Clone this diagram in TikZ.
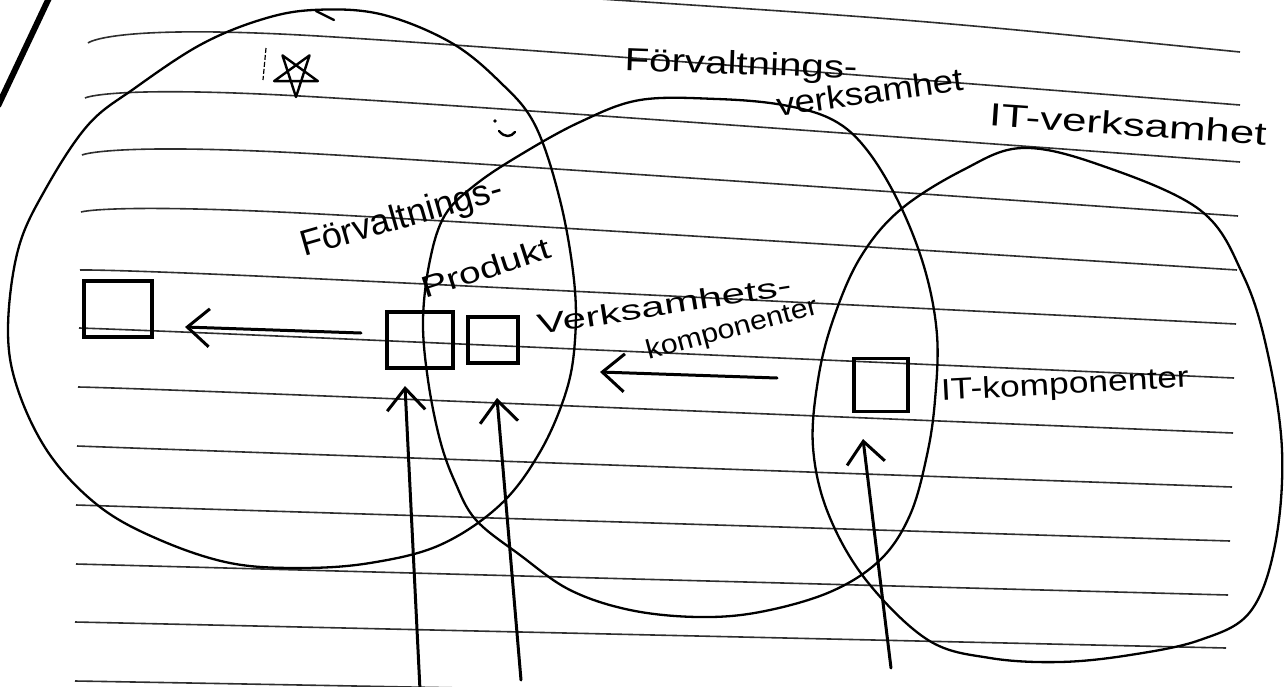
\documentclass[tikz,border=0pt]{standalone}
\usepackage{fontspec}
\setmainfont{Liberation Sans}
\usetikzlibrary{arrows.meta}
\begin{document}
\begin{tikzpicture}[x=1pt,y=-1pt,
  ruled/.style={draw=black!82, line width=1.6pt},
  blob/.style={draw=black, line width=2.3pt, line join=round, line cap=round},
  boxst/.style={draw=black, line width=3.2pt, inner sep=0pt},
  arr/.style={draw=black, line width=3pt, line cap=round, line join=round, -{Straight Barb[length=22pt,width=38pt]}},
  hand/.style={inner sep=0pt, text=black},
  penstroke/.style={draw=black, line width=2.4pt, line cap=round, line join=round}
]
\useasboundingbox (0,0) rectangle (1288,686);
\fill[white] (0,0) rectangle (1288,686);
\clip (0,0) rectangle (1288,686);

% ruled lines of the paper
\foreach \xl/\yl/\ym/\xr/\yr in {88/43/35/1240/105, 85/98/96/1240/162, 82/155/153/1238/216,
  81/212/213/1237/270, 80/270/278/1236/324, 79/328/337/1234/378, 78/387/395/1233/433,
  77/446/454/1232/487, 76/505/512/1230/541, 76/564/570/1228/595, 75/622/627/1226/648,
  75/681/685/1225/702}
  \draw[ruled] plot[smooth, tension=0.6] coordinates {(\xl,\yl) (300,\ym) (\xr,\yr)};
\draw[ruled] (600,-1) .. controls (920,20) .. (1240,52);

% thick margin stroke
\draw[line width=6pt] (49,-2) -- (-2,106);

% left blob
\draw[blob] plot[smooth cycle, tension=0.6] coordinates {
 (313,10) (380,14) (450,42) (500,82) (535,125) (560,200) (574,280) (575,340) (566,392)
 (540,452) (500,505) (440,545) (370,563) (300,568) (230,563) (160,540) (100,507)
 (50,455) (18,390) (8,330) (18,250) (45,190) (88,125) (135,88) (200,45) (260,20)};
\draw[blob] (316,11) -- (334,20);

% middle blob
\draw[blob] plot[smooth cycle, tension=0.6] coordinates {
 (580,122) (640,100) (717,99) (783,105) (833,120) (867,150) (900,205) (925,270)
 (937,335) (935,400) (927,455) (910,515) (880,560) (830,592) (760,612) (698,617)
 (630,610) (570,590) (520,555) (476,520) (455,482) (440,440) (428,380) (423,320)
 (430,260) (445,215) (475,185) (520,155)};

% right blob
\draw[blob] plot[smooth cycle, tension=0.6] coordinates {
 (1022,148) (1100,165) (1200,210) (1243,275) (1267,350) (1282,450) (1275,545)
 (1250,612) (1200,640) (1130,655) (1060,662) (990,658) (928,640) (866,580)
 (828,513) (813,447) (818,380) (833,320) (860,258) (900,210) (963,170)};

% star and small marks
\draw[penstroke, shift={(296,74)}] (90:23) -- (234:23) -- (18:23) -- (162:23) -- (306:23) -- cycle;
\draw[line width=1.2pt, dash pattern=on 5pt off 2pt] (266,48) -- (263,80);
\draw[penstroke] (499,131) .. controls (505,138) and (511,137) .. (515,132);
\fill (495,121) circle (1.8);

% boxes
\node[boxst, minimum width=68pt, minimum height=56pt] (B1) at (118,309) {};
\node[boxst, minimum width=66pt, minimum height=56pt] (B2) at (420,340) {};
\node[boxst, minimum width=50pt, minimum height=46pt] (B3) at (493,340) {};
\node[boxst, minimum width=54pt, minimum height=53pt] (B4) at (881,385) {};

% labels
\node[hand, font=\fontsize{32}{34}\selectfont, rotate=-2, xscale=1.26] (tFV) at (741,66) {Förvaltnings-};
\node[hand, font=\fontsize{32}{34}\selectfont, rotate=8, xscale=1.14] (tVH) at (870,92) {verksamhet};
\node[hand, font=\fontsize{32}{34}\selectfont, rotate=-4, xscale=1.37] (tIT) at (1128,124) {IT-verksamhet};
\node[hand, font=\fontsize{36}{38}\selectfont, rotate=16] (tFP) at (402,219) {Förvaltnings-};
\node[hand, font=\fontsize{30}{32}\selectfont, rotate=18, xscale=1.3] (tPR) at (486,268) {Produkt};
\node[hand, font=\fontsize{28}{30}\selectfont, rotate=9, xscale=1.5] (tVK) at (664,305) {Verksamhets-};
\node[hand, font=\fontsize{27}{29}\selectfont, rotate=15, xscale=1.12] (tKO) at (732,330) {komponenter};
\node[hand, font=\fontsize{30}{32}\selectfont, rotate=3, xscale=1.18] (tIK) at (1065,386) {IT-komponenter};

% arrow end points
\coordinate (aAtail) at (361,333);
\coordinate (aAtip) at (185,327);
\coordinate (aBtail) at (777,378);
\coordinate (aBtip) at (600,372);
\coordinate (v1tail) at (420,690);
\coordinate (v1tip) at (405,386);
\coordinate (v2tail) at (521,680);
\coordinate (v2tip) at (497,398);
\coordinate (v3tail) at (891,668);
\coordinate (v3tip) at (863,439);

\draw[arr] (aAtail) -- (aAtip);
\draw[arr] (aBtail) -- (aBtip);
\draw[arr] (v1tail) -- (v1tip);
\draw[arr] (v2tail) -- (v2tip);
\draw[arr] (v3tail) -- (v3tip);
\end{tikzpicture}
\end{document}
